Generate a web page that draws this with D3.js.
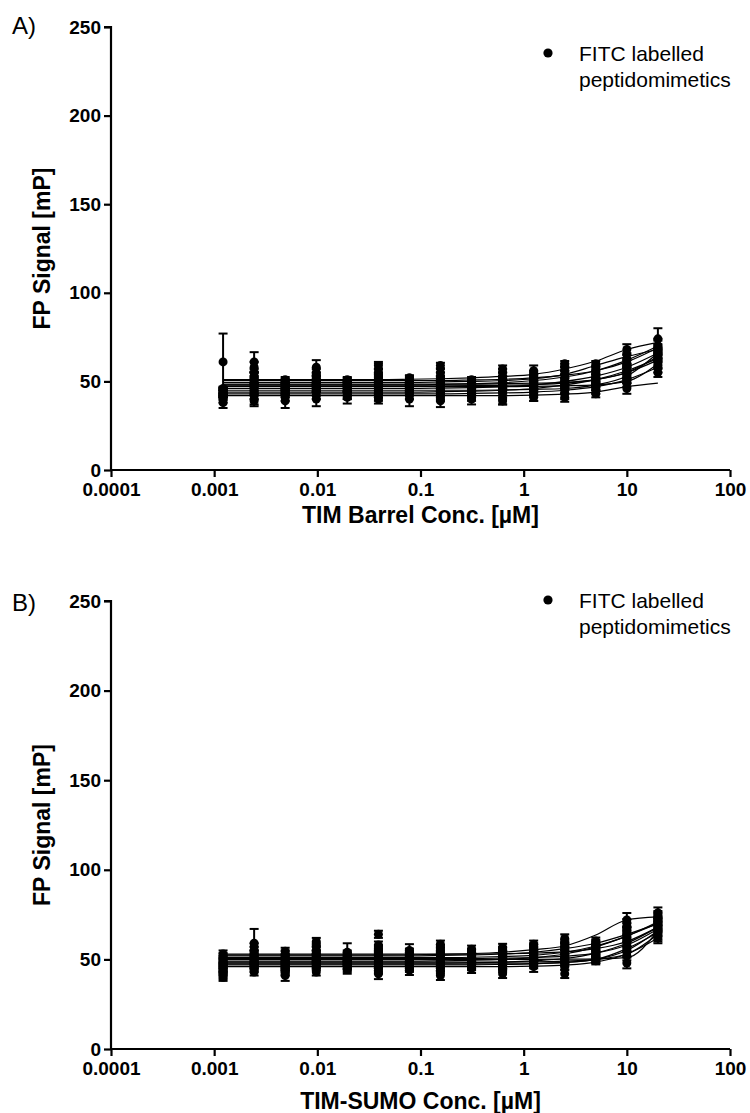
<!DOCTYPE html>
<html><head><meta charset="utf-8">
<script src="https://cdn.jsdelivr.net/npm/d3@7/dist/d3.min.js"></script>
<style>body{margin:0;background:#fff}svg{display:block}text{font-family:"Liberation Sans",Arial,sans-serif}</style>
</head><body>
<script>
// concentrations (µM), 2-fold dilution
const conc = [0.00122,0.00244,0.00488,0.00977,0.0195,0.0391,0.0781,0.156,0.3125,0.625,1.25,2.5,5,10,20];
const xTicks = [0.0001,0.001,0.01,0.1,1,10,100];
const xTickLabels = ["0.0001","0.001","0.01","0.1","1","10","100"];
const yTicks = [0,50,100,150,200,250];

// Panel A: means per concentration (12 peptidomimetics each)
const meansA = [
 [40,41,44,42,61,43,45,46,44,45,38,42],
 [42,40,47,50,52,61,55,49,58,53,39,45],
 [43,39,46,45,48,50,47,49,51,47,41,44],
 [44,40,48,46,51,58,50,53,55,49,42,47],
 [42,41,45,47,49,50,51,48,50,46,42,44],
 [43,40,46,49,52,57,53,59,55,50,41,45],
 [44,40,46,48,50,52,49,51,47,45,42,47],
 [42,39,46,48,51,53,59,50,55,47,41,44],
 [43,41,45,47,49,51,48,50,46,44,40,46],
 [44,40,47,49,51,57,53,55,50,48,39,46],
 [44,42,46,48,50,54,49,52,56,53,41,47],
 [45,43,47,50,52,56,48,54,58,60,41,49],
 [47,45,49,52,48,56,51,54,57,60,43,50],
 [51,55,52,58,49,62,54,60,63,68,46,57],
 [58,64,66,66,60,70,65,68,70,74,55,62]
];
const errA = [
 [2,1.5,2,1,16,2,1.5,1,2,1.5,3,1],
 [2,3,2,2,3,5.5,2,2,3,2,3,2],
 [2,4,2,2,2,1.5,2,2,1.5,2,2,2],
 [2,4,2,2,2,4,2,2,2,2,2,2],
 [2,3.5,2,2,2,2,1.5,2,1,2,2,2],
 [2,2.5,2,2,2,3,2,2,2,2,2,2],
 [2,4,2,2,2,1.5,2,2,2,2,2,2],
 [2,3.5,2,2,2,2,1.5,2,2,2,2,2],
 [2,2,2,2,2,1.5,2,1.5,2,2,3,2],
 [2,3,2,2,2,2,2,2,2,2,2,2],
 [2,3,2,2,2,2,2,2,3,2,2,2],
 [2,3,2,2,2,2,2,2,2,1.5,2.5,2],
 [2,2,2,2,2,2,2,2,2,1.5,2,2],
 [2,3,2,2,2,3,2,2,3,3,3,2],
 [3,3,3,3,3,4,3,3,3,6,2.5,3]
];
// Panel A: fitted curves per peptidomimetic (values at each concentration)
const fitA = [
 [43,43,43,43,43,43,43,43,43.2,43.5,44,45,47,51,58],
 [44,44,44,44,44,44,44,44.2,44.5,45,46,48,51,56,63],
 [45,45,45,45,45,45,45,45,45,45.2,45.5,46,48,53,66],
 [46,46,46,46,46,46,46,46.2,46.5,47,48,50,53,58,66],
 [47,47,47,47,47,47,47,47,47,47,47.2,47.5,48,50,60],
 [48,48,48,48,48,48,48,48.3,48.7,49.3,50.5,52.5,56,62,70],
 [48.5,48.5,48.5,48.5,48.5,48.5,48.5,48.5,48.5,48.7,49,49.5,51,55,64],
 [49.5,49.5,49.5,49.5,49.5,49.5,49.5,49.7,50,50.5,51.5,54,59,64,68],
 [50.5,50.5,50.5,50.5,50.5,50.5,50.5,50.5,50.8,51.2,52,53.5,56,61,69],
 [51,51,51,51,51,51,51.2,51.5,52,52.8,54,57,61.5,68,72],
 [42,42,42,42,42,42,42,42,42,42,42.2,42.8,44,47,49],
 [47.5,47.5,47.5,47.5,47.5,47.5,47.5,47.5,47.6,47.8,48.2,49,51,55,62]
];

// Panel B
const meansB = [
 [43,45,47,41,50,46,49,52,48,44,53,40],
 [45,47,50,43,52,49,55,53,59,48,57,46],
 [44,46,49,41,51,48,53,50,47,45,54.5,43],
 [46,48,52,43,50,55,57,60,53,47,51,49],
 [45,47,50,44.5,49,52,48,51,54,46,53,49],
 [45,47,50,42,53,55,58,64,52,48,56,44],
 [46,48,51,44,50,53,49,55,52,47,54,45],
 [45,47,51,41,49,53,56,58.5,52,48,55,44],
 [46,48,50,45,51,53,49,55.7,52,47,54,46],
 [47,49,51,42,50,54,52,56.7,53,46,55,45],
 [48,50,52,46,51,55,53,58.5,56,47,57,49],
 [48,51,53,42,50,57,55,61.7,58,46,59,49],
 [51,53,55,50,50,57,56,58,60.2,52,59,49.2],
 [54,58,62,60,48,64,66,68,72,57,70,52],
 [63,68,70,72,64,69,73,71,74,66,76,62]
];
const errB = [
 [2,2,2,2,2,2,2,1.5,2,2,2,2],
 [2,2,2,2,2,2,2,2,8,2,2,2],
 [2,2,2,3,2,2,2,2,2,2,2,2],
 [2,2,2,2,2,2,2,2,2,2,2,2],
 [2,2,2,2.5,2,2,2,2,5,2,2,2],
 [2,2,2,3,2,2,2,2,2,2,2,2],
 [2,2,2,2.7,2,2,2,3.5,2,2,2,2],
 [2,2,2,2.5,2,2,2,2,2,2,2,2],
 [2,2,2,2.6,2,2,2,2,2,2,2,2],
 [2,2,2,2.4,2,2,2,2,2,2,2,2],
 [2,2,2,3,2,2,2,2,2,2,2,2],
 [2,2,2,2.4,2,2,2,2.3,2,2,2,2],
 [2,2,2,2,2,2,2,2,2,2,2,2],
 [2.5,2.5,2.5,2.5,3,2.5,2.5,2.5,3.9,2.5,2.5,2.5],
 [3,3,3,3,3,3,3,3,3,3,3,3]
];
const fitB = [
 [46,46,46,46,46,46,46,46,46,46,46.2,46.8,48.5,53,62],
 [47,47,47,47,47,47,47,47,47,47.2,47.5,48.3,50,55,66],
 [48,48,48,48,48,48,48,48,48.2,48.5,49.2,50.5,53.5,59,68],
 [49,49,49,49,49,49,49,49.2,49.5,50,51,53,57,63,70],
 [50,50,50,50,50,50,50,50,50,50,50,50.1,50.3,51,66],
 [50.5,50.5,50.5,50.5,50.5,50.5,50.5,50.5,50.5,50.7,51,51.8,53.5,58,67],
 [51,51,51,51,51,51,51,51,51.2,51.6,52.3,54,57.5,63,71],
 [52,52,52,52,52,52,52,52.2,52.5,53,54,56,59,64,70],
 [52.5,52.5,52.5,52.5,52.5,52.5,52.6,52.8,53.2,54,55.5,57.5,63.6,72,73.7],
 [47.5,47.5,47.5,47.5,47.5,47.5,47.5,47.5,47.5,47.5,47.7,48.3,50,56,65],
 [53,53,53,53,53,53,53,53,53,53.2,53.5,54.2,56,60,68],
 [48.5,48.5,48.5,48.5,48.5,48.5,48.5,48.5,48.5,48.5,48.6,49,50,53,64]
];

const panels = [
 {label:"A)", xTitle:"TIM Barrel Conc. [µM]", means:meansA, err:errA, fit:fitA,
  top:27, bottom:470, labelY:34, legY:53, titleY:523, pad:6},
 {label:"B)", xTitle:"TIM-SUMO Conc. [µM]", means:meansB, err:errB, fit:fitB,
  top:601, bottom:1049, labelY:611, legY:600, titleY:1109, pad:6}
];

const W=750,H=1113;
const svg=d3.select("body").append("svg").attr("width",W).attr("height",H);
const x=d3.scaleLog().domain([1e-4,100]).range([111,730]);

panels.forEach(p=>{
  const y=d3.scaleLinear().domain([0,250]).range([p.bottom,p.top]);
  const g=svg.append("g");
  // axes
  const ya=g.append("g").attr("transform",`translate(${x(1e-4)},0)`)
    .call(d3.axisLeft(y).tickValues(yTicks).tickSize(7).tickPadding(3).tickFormat(d3.format("d")));
  const xa=g.append("g").attr("transform",`translate(0,${y(0)})`)
    .call(d3.axisBottom(x).tickValues(xTicks).tickSize(7).tickPadding(p.pad).tickFormat((d,i)=>xTickLabels[i]));
  [ya,xa].forEach(a=>{
    a.select(".domain").attr("stroke","#000").attr("stroke-width",2.2);
    a.selectAll(".tick line").attr("stroke","#000").attr("stroke-width",2.2);
    a.selectAll(".tick text").attr("fill","#000").style("font-size","19px").style("font-weight","bold");
  });
  ya.select(".domain").attr("d",`M-7,${y(250)}H0V${y(0)}`);
  xa.select(".domain").attr("d",`M${x(1e-4)},0H${x(100)}`);
  // titles
  g.append("text").attr("transform",`translate(50,${(p.top+p.bottom)/2}) rotate(-90)`)
    .attr("text-anchor","middle").style("font-size","23px").style("font-weight","bold").text("FP Signal [mP]");
  g.append("text").attr("x",(x(1e-4)+x(100))/2).attr("y",p.titleY)
    .attr("text-anchor","middle").style("font-size","23px").style("font-weight","bold").text(p.xTitle);
  g.append("text").attr("x",12).attr("y",p.labelY).style("font-size","24px").text(p.label);
  // legend
  g.append("circle").attr("cx",548).attr("cy",p.legY).attr("r",4.6).attr("fill","#000");
  g.append("text").attr("x",579).attr("y",p.legY+8).style("font-size","21px").text("FITC labelled");
  g.append("text").attr("x",579).attr("y",p.legY+34).style("font-size","21px").text("peptidomimetics");

  // fitted curves
  const line=d3.line().x((d,i)=>x(conc[i])).y(d=>y(d)).curve(d3.curveMonotoneX);
  g.append("g").selectAll("path").data(p.fit).join("path")
    .attr("d",line).attr("fill","none").attr("stroke","#000").attr("stroke-width",1.2);

  // points + error bars
  const pts=[];
  p.means.forEach((row,i)=>row.forEach((m,s)=>pts.push({c:conc[i],m,e:p.err[i][s]})));
  const eg=g.append("g").attr("stroke","#000").attr("stroke-width",2);
  eg.selectAll("line.v").data(pts).join("line").attr("class","v")
    .attr("x1",d=>x(d.c)).attr("x2",d=>x(d.c)).attr("y1",d=>y(d.m-d.e)).attr("y2",d=>y(d.m+d.e));
  eg.selectAll("line.t").data(pts).join("line").attr("class","t")
    .attr("x1",d=>x(d.c)-4.5).attr("x2",d=>x(d.c)+4.5).attr("y1",d=>y(d.m+d.e)).attr("y2",d=>y(d.m+d.e));
  eg.selectAll("line.b").data(pts).join("line").attr("class","b")
    .attr("x1",d=>x(d.c)-4.5).attr("x2",d=>x(d.c)+4.5).attr("y1",d=>y(d.m-d.e)).attr("y2",d=>y(d.m-d.e));
  g.append("g").selectAll("circle").data(pts).join("circle")
    .attr("cx",d=>x(d.c)).attr("cy",d=>y(d.m)).attr("r",4.5).attr("fill","#000");
});
</script>
</body></html>
